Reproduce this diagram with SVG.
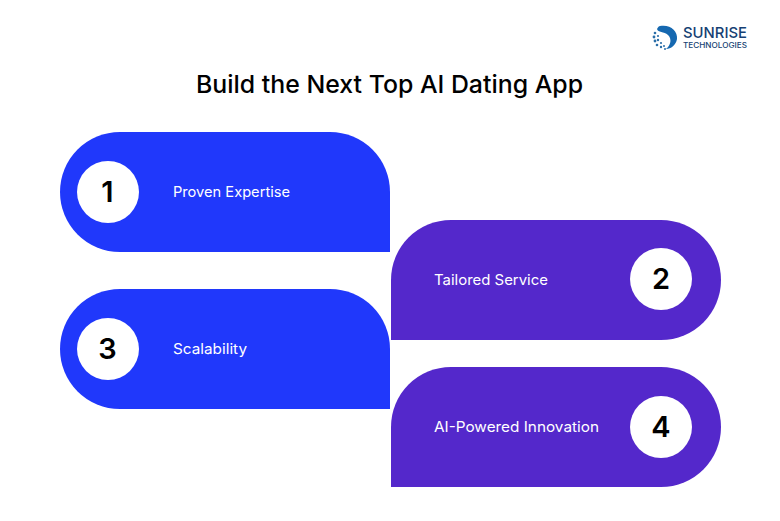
<svg xmlns="http://www.w3.org/2000/svg" width="780" height="521" viewBox="0 0 780 521">
<style>
text{font-family:"Inter","Liberation Sans",sans-serif}
.t{font-size:14.5px;font-weight:400;fill:#fff}
.n{font-size:29px;font-weight:600;fill:#000;text-anchor:middle}
.c{fill:#fff}
.b{fill:#2038fb}
.p{fill:#5428cb}
</style>
<rect width="780" height="521" fill="#fff"/>
<text x="389.500" y="93" text-anchor="middle" font-size="24.500" font-weight="500" fill="#000" textLength="387" lengthAdjust="spacingAndGlyphs">Build the Next Top AI Dating App</text>
<g id="logo">
<path d="M660 26C670 24 678 31 677 39C676 45 671 49 666 49C671 45 672 39 668 35C664 31 658 33 657 29C658 27 659 26 660 26Z" fill="#1568b0"/>
<g fill="#2b6ea8"><circle cx="655" cy="33" r="1.300"/><circle cx="654" cy="37" r="1.400"/><circle cx="655" cy="41" r="1.400"/><circle cx="658" cy="36" r="1.100"/><circle cx="658" cy="40" r="1.200"/><circle cx="657" cy="45" r="1.300"/><circle cx="661" cy="43" r="1.100"/><circle cx="661" cy="47" r="1.200"/><circle cx="664" cy="46" r="1"/><circle cx="665" cy="49" r="1"/></g>
<text x="683" y="37.500" font-size="15" font-weight="500" fill="#163f73" textLength="64" lengthAdjust="spacingAndGlyphs">SUNRISE</text>
<text x="683" y="48.200" font-size="7.200" font-weight="500" fill="#163f73" textLength="64" lengthAdjust="spacingAndGlyphs">TECHNOLOGIES</text>
</g>
<g id="connectors"/>
<g id="node1">
<path class="b" d="M120 132H330A60 60 0 0 1 390 192V252H120A60 60 0 0 1 120 132Z"/>
<circle class="c" cx="108" cy="192" r="31"/>
<text class="n" x="107.500" y="202">1</text>
<text class="t" x="173" y="197" textLength="117" lengthAdjust="spacingAndGlyphs">Proven Expertise</text>
</g>
<g id="node2">
<path class="p" d="M661 220H451A60 60 0 0 0 391 280V340H661A60 60 0 0 0 661 220Z"/>
<circle class="c" cx="661" cy="279" r="31"/>
<text class="n" x="661" y="289">2</text>
<text class="t" x="434" y="285" textLength="114" lengthAdjust="spacingAndGlyphs">Tailored Service</text>
</g>
<g id="node3">
<path class="b" d="M120 289H330A60 60 0 0 1 390 349V409H120A60 60 0 0 1 120 289Z"/>
<circle class="c" cx="108" cy="349" r="31"/>
<text class="n" x="107.500" y="359">3</text>
<text class="t" x="173" y="354" textLength="74" lengthAdjust="spacingAndGlyphs">Scalability</text>
</g>
<g id="node4">
<path class="p" d="M661 367H451A60 60 0 0 0 391 427V487H661A60 60 0 0 0 661 367Z"/>
<circle class="c" cx="661" cy="427" r="31"/>
<text class="n" x="661" y="437">4</text>
<text class="t" x="434" y="432" textLength="165" lengthAdjust="spacingAndGlyphs">AI-Powered Innovation</text>
</g>
</svg>
